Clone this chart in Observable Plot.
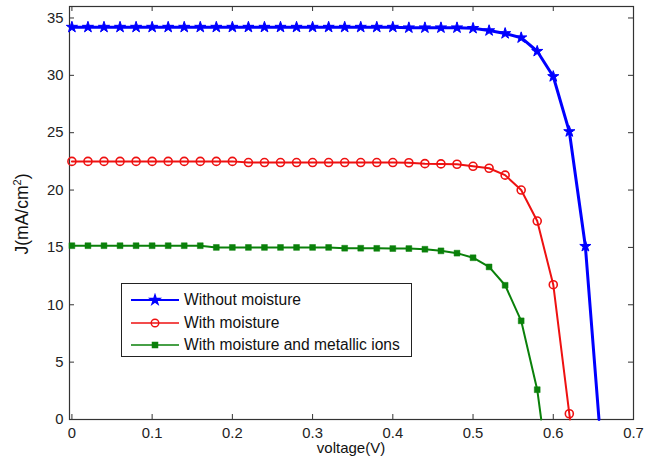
<!DOCTYPE html>
<html>
<head>
<meta charset="utf-8">
<script src="https://cdn.jsdelivr.net/npm/d3@7"></script>
<script src="https://cdn.jsdelivr.net/npm/@observablehq/plot@0.6"></script>
<style>
  html, body { margin: 0; padding: 0; background: #fff; }
  #wrap { position: relative; width: 668px; height: 470px; font-family: "Liberation Sans", Arial, sans-serif; color: #111; }
  #wrap > svg { position: absolute; left: 0; top: 0; }
  .lab { position: absolute; font-size: 15px; white-space: nowrap; }
  #ylab { left: 22px; top: 214px; font-size: 17.5px; transform: translate(-50%, -50%) rotate(-90deg); }
  #xlab { left: 351px; top: 447px; transform: translate(-50%, -50%); }
  #legend { position: absolute; left: 121px; top: 283px; width: 289px; height: 72px; border: 1px solid #222; background: #fff; }
  #legend .row { position: absolute; left: 0; height: 20px; display: flex; align-items: center; font-size: 15.6px; white-space: nowrap; }
  #legend .row svg { position: static; display: block; margin-left: 8px; margin-right: 4px; flex: none; }
</style>
</head>
<body>
<div id="wrap"></div>
<script>
// ---- data ----
const voltage = [0, 0.02, 0.04, 0.06, 0.08, 0.10, 0.12, 0.14, 0.16, 0.18, 0.20, 0.22, 0.24, 0.26, 0.28, 0.30, 0.32, 0.34, 0.36, 0.38, 0.40, 0.42, 0.44, 0.46, 0.48, 0.50, 0.52, 0.54, 0.56, 0.58, 0.60, 0.62, 0.64];

const jWithout = [34.2, 34.2, 34.2, 34.2, 34.2, 34.2, 34.2, 34.2, 34.2, 34.2, 34.2, 34.2, 34.2, 34.2, 34.2, 34.2, 34.2, 34.2, 34.2, 34.2, 34.2, 34.15, 34.15, 34.15, 34.15, 34.1, 33.9, 33.65, 33.28, 32.1, 29.9, 25.1, 15.1];
const vocWithout = 0.657;

const jMoisture = [22.5, 22.5, 22.5, 22.5, 22.5, 22.5, 22.5, 22.5, 22.5, 22.5, 22.5, 22.4, 22.4, 22.4, 22.4, 22.4, 22.4, 22.4, 22.4, 22.4, 22.4, 22.38, 22.3, 22.28, 22.25, 22.07, 21.9, 21.3, 20.0, 17.3, 11.75, 0.5];
const vocMoisture = 0.621;

const jMetallic = [15.15, 15.15, 15.15, 15.15, 15.15, 15.15, 15.15, 15.15, 15.15, 15.0, 15.0, 15.0, 15.0, 15.0, 15.0, 15.0, 15.0, 14.93, 14.93, 14.92, 14.9, 14.9, 14.84, 14.7, 14.5, 14.1, 13.3, 11.7, 8.6, 2.6];
const vocMetallic = 0.585;

const seriesNames = ["Without moisture", "With moisture", "With moisture and metallic ions"];
const seriesColors = ["#0000ff", "#ee1111", "#0a800a"];

const xTicks = [0, 0.1, 0.2, 0.3, 0.4, 0.5, 0.6, 0.7];
const xTickLabels = ["0", "0.1", "0.2", "0.3", "0.4", "0.5", "0.6", "0.7"];
const yTicks = [0, 5, 10, 15, 20, 25, 30, 35];
const yTickLabels = ["0", "5", "10", "15", "20", "25", "30", "35"];

// ---- build tables ----
const pts = (js) => js.map((j, i) => ({v: voltage[i], j}));
const bluePts = pts(jWithout), redPts = pts(jMoisture), greenPts = pts(jMetallic);
const blueLine = [...bluePts, {v: vocWithout, j: 0}];
const redLine = [...redPts, {v: vocMoisture, j: 0}];
const greenLine = [...greenPts, {v: vocMetallic, j: 0}];

const W = 668, H = 470, mL = 69, mR = 35, mT = 6, mB = 51;
const pw = W - mL - mR, ph = H - mT - mB, tk = 5;
const axisColor = "#333";

const chart = Plot.plot({
  width: W, height: H,
  marginLeft: mL, marginRight: mR, marginTop: mT, marginBottom: mB,
  style: {fontFamily: "'Liberation Sans', Arial, sans-serif", fontSize: "14.8px", color: "#222", background: "transparent"},
  x: {domain: [-0.003, 0.7]},
  y: {domain: [0, 36]},
  marks: [
    Plot.frame({stroke: axisColor, strokeWidth: 1.2}),
    Plot.ruleX(xTicks, {x: d => d, insetTop: ph - tk, stroke: axisColor}),
    Plot.ruleX(xTicks, {x: d => d, insetBottom: ph - tk, stroke: axisColor}),
    Plot.ruleY(yTicks, {y: d => d, insetRight: pw - tk, stroke: axisColor}),
    Plot.ruleY(yTicks, {y: d => d, insetLeft: pw - tk, stroke: axisColor}),
    Plot.axisX(xTicks, {tickSize: 0, tickPadding: 8, label: null, tickFormat: (d, i) => xTickLabels[i], fill: "#222"}),
    Plot.axisY(yTicks, {tickSize: 0, tickPadding: 6, label: null, tickFormat: (d, i) => yTickLabels[i], fill: "#222"}),
    Plot.line(greenLine, {x: "v", y: "j", stroke: seriesColors[2], strokeWidth: 2}),
    Plot.dot(greenPts, {x: "v", y: "j", symbol: "square", r: 3.3, fill: seriesColors[2], stroke: seriesColors[2], strokeWidth: 0.5}),
    Plot.line(redLine, {x: "v", y: "j", stroke: seriesColors[1], strokeWidth: 2}),
    Plot.dot(redPts, {x: "v", y: "j", symbol: "circle", r: 4, fill: "none", stroke: seriesColors[1], strokeWidth: 1.6}),
    Plot.line(blueLine, {x: "v", y: "j", stroke: seriesColors[0], strokeWidth: 3}),
    Plot.dot(bluePts, {x: "v", y: "j", symbol: "star", r: 3.5, fill: seriesColors[0], stroke: seriesColors[0], strokeWidth: 1})
  ]
});

const wrap = document.getElementById("wrap");
wrap.appendChild(chart);

// axis titles
const yl = document.createElement("div");
yl.className = "lab"; yl.id = "ylab";
yl.innerHTML = "J(mA/cm<sup style='font-size:11px'>2</sup>)";
wrap.appendChild(yl);
const xl = document.createElement("div");
xl.className = "lab"; xl.id = "xlab";
xl.textContent = "voltage(V)";
wrap.appendChild(xl);

// legend
const legend = document.createElement("div");
legend.id = "legend";
const rowTops = [6, 28.5, 51];
seriesNames.forEach((name, i) => {
  const row = document.createElement("div");
  row.className = "row";
  row.style.top = (rowTops[i]) + "px";
  const sym = d3.symbol(i === 0 ? d3.symbolStar : i === 1 ? d3.symbolCircle : d3.symbolSquare, i === 0 ? 30 : i === 1 ? 45 : 26)();
  const fill = i === 1 ? "none" : seriesColors[i];
  row.innerHTML = `<svg width="50" height="14"><line x1="1" x2="49" y1="7" y2="7" stroke="${seriesColors[i]}" stroke-width="${i === 0 ? 2 : 1.6}"/><path d="${sym}" transform="translate(25,7)" fill="${fill}" stroke="${seriesColors[i]}" stroke-width="1.4"/></svg><span>${name}</span>`;
  legend.appendChild(row);
});
wrap.appendChild(legend);
</script>
</body>
</html>
